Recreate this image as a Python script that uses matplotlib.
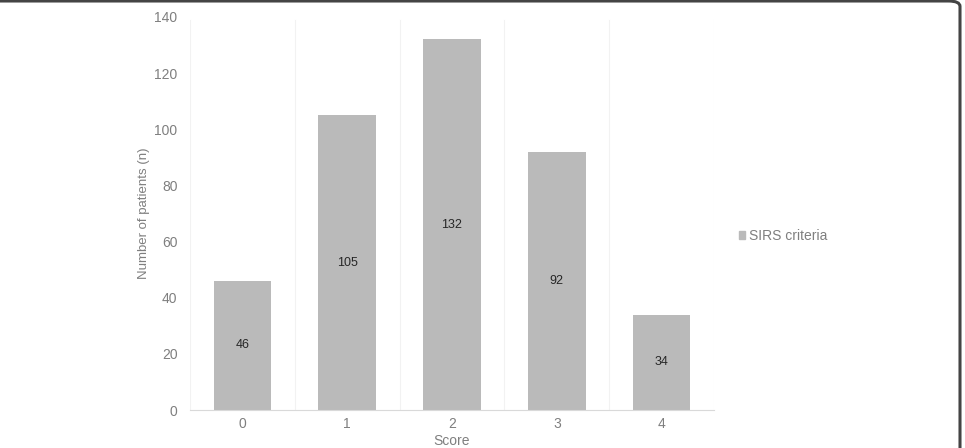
import matplotlib.pyplot as plt
from matplotlib.patches import FancyBboxPatch
from matplotlib.patches import Patch

plt.rcParams['font.family'] = ['Liberation Sans', 'DejaVu Sans']

# data
scores = ["0", "1", "2", "3", "4"]
patients = [46, 105, 132, 92, 34]
series_name = "SIRS criteria"

bar_color = "#bababa"
text_gray = "#7f7f7f"

fig = plt.figure(figsize=(9.65, 4.48), dpi=100)
ax = fig.add_axes([190 / 965, 1 - 410 / 448, (714 - 190) / 965, (410 - 17) / 448])

x = range(len(scores))
bars = ax.bar(x, patients, width=0.55, color=bar_color, zorder=2)
for b, v in zip(bars, patients):
    ax.text(b.get_x() + b.get_width() / 2, v / 2, str(v), ha="center", va="center",
            fontsize=9, color="#262626", zorder=3)

ax.set_xlim(-0.5, len(scores) - 0.5)
ax.set_ylim(0, 140)
ax.set_yticks(range(0, 141, 20))
ax.set_xticks(list(x))
ax.set_xticklabels(scores)

# faint vertical separators between categories
for b in [i - 0.5 for i in range(len(scores) + 1)]:
    ax.axvline(b, ymax=(140 - 1) / 140, color="#f2f2f2", lw=0.8, zorder=1)

for s in ["top", "right", "left"]:
    ax.spines[s].set_visible(False)
ax.spines["bottom"].set_color("#d9d9d9")
ax.tick_params(axis="both", length=0, labelsize=10, colors=text_gray)
ax.tick_params(axis="x", pad=5)
ax.tick_params(axis="y", pad=9)

ax.set_ylabel("Number of patients (n)", fontsize=9.5, color=text_gray, labelpad=3)
ax.set_xlabel("Score", fontsize=10, color=text_gray, labelpad=2)

handle = Patch(color=bar_color)
fig.legend([handle], [series_name], loc="center left", bbox_to_anchor=(726 / 965, 1 - 236 / 448),
           frameon=False, fontsize=10, handlelength=0.45, handleheight=0.45, handletextpad=0.3,
           labelcolor=text_gray)

# frame of the cropped figure: top and right edges with rounded corner
frame = FancyBboxPatch((-20 / 965, -40 / 448), (960 + 20) / 965, (448 + 40 - 1) / 448,
                       boxstyle="round,pad=0,rounding_size=0.012", transform=fig.transFigure,
                       fill=False, ec="#444444", lw=2.2, clip_on=False)
fig.patches.append(frame)

fig.savefig("out.png", dpi=100)
